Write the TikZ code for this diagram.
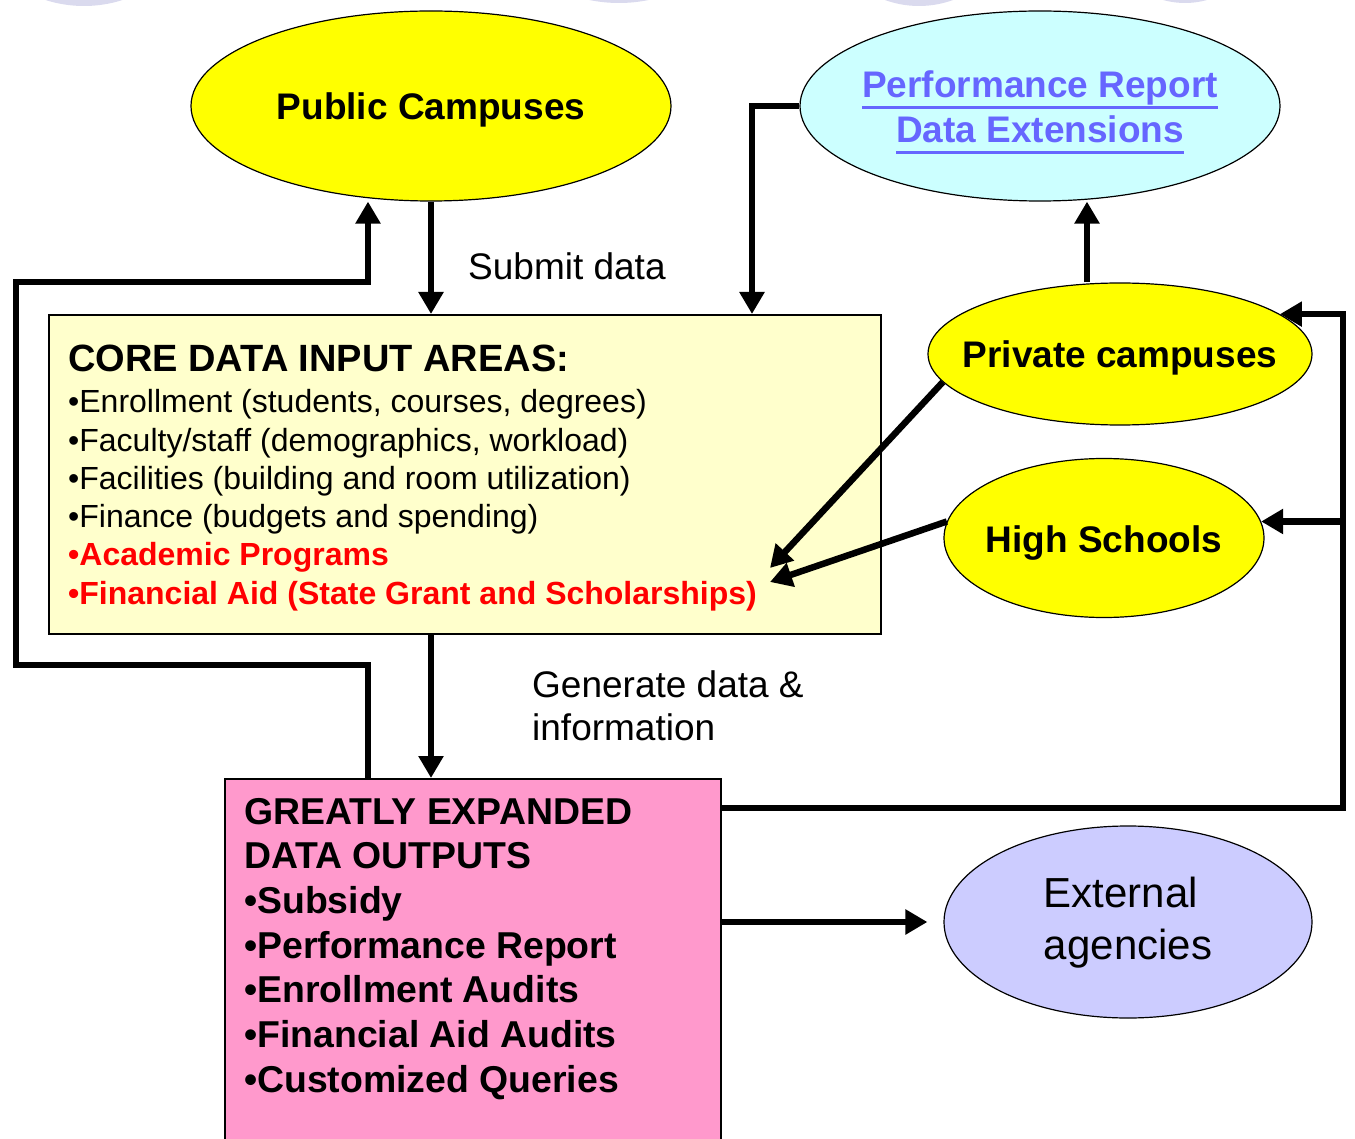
\documentclass[tikz,border=0pt]{standalone}
\usepackage{fontspec}
\setmainfont{Liberation Sans}
\usetikzlibrary{arrows.meta,shapes.geometric}

\definecolor{campusyellow}{HTML}{FFFF00}
\definecolor{extcyan}{HTML}{CCFFFF}
\definecolor{coreyellow}{HTML}{FFFFCC}
\definecolor{outpink}{HTML}{FF99CC}
\definecolor{agencyblue}{HTML}{CCCCFF}
\definecolor{linkblue}{HTML}{6666FF}
\definecolor{slidedot}{HTML}{DADAEE}

% text of an oval, first baseline raised by #2
\newcommand{\ovaltext}[3][c]{\makebox[0pt]{\raisebox{#2}[0pt][0pt]{\begin{tabular}[t]{@{}#1@{}}#3\end{tabular}}}}
% underlined link text
\newcommand{\linkul}[1]{\setbox0\hbox{#1}\rlap{\rule[-11pt]{\wd0}{2.5pt}}\box0}

\tikzset{
  oval/.style={ellipse, draw, line width=1.2pt, inner sep=0pt},
  box/.style={rectangle, draw, line width=2pt, inner sep=0pt, anchor=north west},
  arr/.style={line width=6.5pt, -{Triangle[length=22pt,width=24pt]}},
  bold/.style={font=\bfseries\fontsize{37}{45}\selectfont},
  boldbig/.style={font=\bfseries\fontsize{38}{45}\selectfont},
  outtxt/.style={font=\bfseries\fontsize{37.4}{45}\selectfont},
  lbl/.style={inner sep=0pt, anchor=base west, font=\fontsize{37}{43}\selectfont},
  inplain/.style={font=\fontsize{32}{38}\selectfont},
  inred/.style={font=\bfseries\fontsize{32}{38}\selectfont, text=red},
}

\begin{document}
\begin{tikzpicture}[x=1pt,y=-1pt]
\useasboundingbox (0,0) rectangle (1355,1139);

% slide background dots
\fill[slidedot] (84,-120) circle (126pt);
\fill[slidedot] (619,-144) circle (147pt);
\fill[slidedot] (919,-93) circle (99pt);
\fill[slidedot] (1185,-78) circle (81pt);

% sources
\node[oval, bold, fill=campusyellow, minimum width=480pt, minimum height=190pt] (pub) at (431,106) {\ovaltext{-14pt}{Public Campuses}};
\node[oval, bold, fill=extcyan, minimum width=480pt, minimum height=190pt, text=linkblue] (perf) at (1040,106) {\ovaltext{8pt}{\linkul{Performance Report}\\\linkul{Data Extensions}}};
\node[oval, bold, fill=campusyellow, minimum width=384pt, minimum height=142pt] (priv) at (1120,354) {\ovaltext{-14pt}{Private campuses}};
\node[oval, bold, fill=campusyellow, minimum width=320pt, minimum height=159pt] (hs) at (1104,538) {\ovaltext{-14pt}{High Schools}};
\node[oval, fill=agencyblue, minimum width=368pt, minimum height=192pt, font=\fontsize{42}{52}\selectfont] (ext) at (1128,922) {\ovaltext[l]{15pt}{External\\agencies}};

% boxes
\node[box, fill=coreyellow, minimum width=832pt, minimum height=319pt] (core) at (48,314) {};
\node[box, fill=outpink, minimum width=496pt, minimum height=400pt] (out) at (224,778) {};

% core data input areas
\node[inner sep=0pt, anchor=base west, boldbig] (coretitle) at (68,372) {CORE DATA INPUT AREAS:};
\foreach \st/\txt [count=\i from 0] in {inplain/{Enrollment (students, courses, degrees)},
    inplain/{Faculty/staff (demographics, workload)},
    inplain/{Facilities (building and room utilization)},
    inplain/{Finance (budgets and spending)},
    inred/{Academic Programs},
    inred/{Financial Aid (State Grant and Scholarships)}}
  \node[inner sep=0pt, anchor=base west, \st] (in\i) at (68,413+38.2*\i) {\textbullet\txt};

% expanded outputs
\foreach \txt [count=\i from 0] in {{GREATLY EXPANDED}, {DATA OUTPUTS},
    {\textbullet Subsidy}, {\textbullet Performance Report}, {\textbullet Enrollment Audits},
    {\textbullet Financial Aid Audits}, {\textbullet Customized Queries}}
  \node[inner sep=0pt, anchor=base west, outtxt] (out\i) at (244,824+44.67*\i) {\txt};

\node[lbl] (submit) at (468,280) {Submit data};
\node[lbl, align=left] (generate) at (532,740) {Generate data \&\\information};

% connectors
\coordinate (lb) at (368,665);
\coordinate (lt) at (16,282);
\coordinate (pe) at (752,106);
\coordinate (pu) at (1087,0);
\coordinate (rb) at (1343,808);
\coordinate (acadtip) at (770,568);
\coordinate (aidtip) at (770,582);

\draw[arr] (pub.south) -- (pub.south |- core.north);
\draw[arr] (lb |- out.north) -- (lb) -- (lb -| lt) -- (lt) -- (lt -| lb) -- (lb |- pub.south);
\draw[arr] (perf.west) -- (pe) -- (pe |- core.north);
\draw[arr] (pu |- priv.north) -- (pu |- perf.south);
\draw[arr] (rb -| out.east) -- (rb) -- (rb |- priv.14) -- (priv.14);
\draw[arr] (rb |- hs.6) -- (hs.6);
\draw[arr] (priv.189) -- (acadtip);
\draw[arr] (hs.174) -- (aidtip);
\draw[arr] (pub.south |- core.south) -- (pub.south |- out.north);
\draw[arr] (out.east |- ext.west) -- ([xshift=-16pt]ext.west);
\end{tikzpicture}
\end{document}
